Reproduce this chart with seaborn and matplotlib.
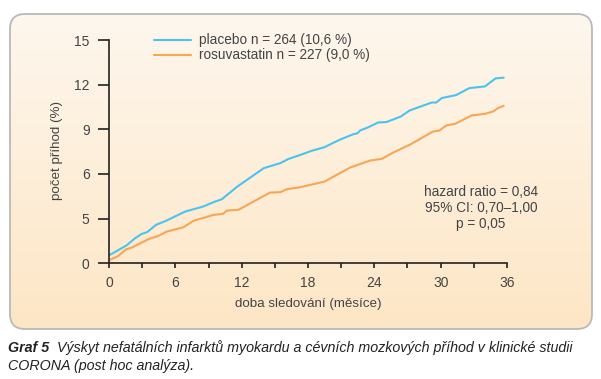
import numpy as np
import pandas as pd
import seaborn as sns
import matplotlib.pyplot as plt
from matplotlib.patches import FancyBboxPatch
from matplotlib.colors import LinearSegmentedColormap

# values (months, cumulative %)
placebo_months = [0.0, 0.24, 1.6, 2.35, 2.95, 3.46, 4.25, 5.2, 6.87, 8.5, 9.57, 10.2,
    11.6, 14.0, 15.5, 16.2, 17.3, 18.3, 19.5, 20.3, 21.0, 22.1, 22.5, 22.7, 23.4,
    24.35, 25.1, 26.4, 27.2, 29.2, 29.6, 30.1, 31.4, 32.6, 34.0, 34.96, 35.7]
placebo_pct = [0.55, 0.63, 1.21, 1.68, 1.97, 2.1, 2.58, 2.87, 3.47, 3.81, 4.14, 4.3,
    5.15, 6.39, 6.73, 7.0, 7.28, 7.55, 7.8, 8.1, 8.34, 8.67, 8.74, 8.92, 9.12,
    9.46, 9.49, 9.86, 10.27, 10.8, 10.8, 11.1, 11.3, 11.77, 11.88, 12.42, 12.47]
rosu_months = [0.0, 0.24, 0.84, 1.54, 2.05, 3.56, 4.46, 5.22, 6.73, 7.63, 9.44, 10.3,
    10.65, 11.7, 14.56, 15.5, 16.1, 17.3, 19.5, 21.8, 23.6, 24.7, 25.7, 27.2,
    28.1, 29.3, 29.9, 30.5, 31.3, 32.8, 34.0, 34.75, 35.2, 35.7]
rosu_pct = [0.2, 0.29, 0.49, 0.94, 1.05, 1.62, 1.84, 2.13, 2.42, 2.85, 3.25, 3.32,
    3.54, 3.59, 4.75, 4.78, 4.98, 5.11, 5.49, 6.43, 6.9, 7.02, 7.44, 7.96,
    8.34, 8.85, 8.92, 9.26, 9.37, 9.93, 10.04, 10.2, 10.43, 10.58]

groups = ["placebo n = 264 (10,6 %)", "rosuvastatin n = 227 (9,0 %)"]
colors = ["#4cc2ee", "#f6a655"]
y_ticks = [0, 3, 6, 9, 12, 15]
y_ticklabels = ["0", "5", "6", "9", "12", "15"]
x_ticks = [0, 3, 6, 9, 12, 15, 18, 21, 24, 27, 30, 33, 36]
x_ticklabels = ["0", "", "6", "", "12", "", "18", "", "24", "", "30", "", "36"]

df = pd.concat([
    pd.DataFrame({"month": placebo_months, "pct": placebo_pct, "group": groups[0]}),
    pd.DataFrame({"month": rosu_months, "pct": rosu_pct, "group": groups[1]}),
])

sns.set_style("ticks")
plt.rcParams["font.family"] = ["Liberation Sans", "DejaVu Sans"]
txt = "#444444"
fs = 9.8

W, H = 601, 379
fig = plt.figure(figsize=(W / 100, H / 100), dpi=100)

# background panel with vertical gradient
bg = fig.add_axes([0, 0, 1, 1], zorder=0)
bg.set_xlim(0, W)
bg.set_ylim(H, 0)
bg.axis("off")
box = FancyBboxPatch((10 + 15, 14 + 15), 582 - 30, 315 - 30,
    boxstyle="round,pad=15", facecolor="none", edgecolor="#b9b9b9", lw=1.3)
bg.add_patch(box)
cmap = LinearSegmentedColormap.from_list("bg", ["#fef7ee", "#fde6c5"])
grad = np.linspace(0, 1, 256).reshape(-1, 1)
im = bg.imshow(grad, cmap=cmap, aspect="auto", extent=(10, 592, 329, 14), zorder=0)
im.set_clip_path(box)

ax = fig.add_axes([109 / W, 1 - 263.3 / H, 398 / W, 223.3 / H], zorder=1)
ax.patch.set_alpha(0)
sns.lineplot(data=df, x="month", y="pct", hue="group", palette=colors,
    linewidth=1.5, legend=False, ax=ax, sort=False)
ax.set_xlim(0, 36)
ax.set_ylim(0, 15)
ax.set_xticks(x_ticks)
ax.set_xticklabels(x_ticklabels)
ax.set_yticks(y_ticks)
ax.set_yticklabels(y_ticklabels)
for s in ["top", "right"]:
    ax.spines[s].set_visible(False)
for s in ["left", "bottom"]:
    ax.spines[s].set_color("#222222")
    ax.spines[s].set_linewidth(1.2)
ax.tick_params(axis="y", length=8, width=1.2, color="#222222", pad=6,
    labelsize=10, labelcolor=txt)
ax.tick_params(axis="x", length=3.8, width=1.2, color="#222222", pad=5,
    labelsize=10, labelcolor=txt)
ax.set_xlabel("")
ax.set_ylabel("")

fig.text(57 / W, 1 - 150 / H, "počet příhod (%)", rotation=90, ha="center",
    va="center", fontsize=9.6, color=txt)
fig.text(308 / W, 1 - 304 / H, "doba sledování (měsíce)", ha="center",
    va="center", fontsize=9.6, color=txt)

# legend
for i, (g, c) in enumerate(zip(groups, colors)):
    row = 40 + 15 * i
    bg.plot([154, 191], [row, row], color=c, lw=1.5, zorder=2)
    fig.text(199 / W, 1 - row / H, g, ha="left", va="center", fontsize=fs, color=txt)

fig.text(481 / W, 1 - 208 / H, "hazard ratio = 0,84\n95% CI: 0,70\u20131,00\np = 0,05",
    ha="center", va="center", fontsize=fs, color=txt, linespacing=1.2)

# caption
cap_fs = 10.3
fig.text(8 / W, 1 - 348 / H, "Graf 5", ha="left", va="center", fontsize=cap_fs,
    style="italic", weight="bold", color="#222222")
fig.text(57 / W, 1 - 348 / H,
    "Výskyt nefatálních infarktů myokardu a cévních mozkových příhod v klinické studii",
    ha="left", va="center", fontsize=cap_fs, style="italic", color="#222222")
fig.text(8 / W, 1 - 366 / H, "CORONA (post hoc analýza).", ha="left", va="center",
    fontsize=cap_fs, style="italic", color="#222222")

fig.savefig("out.png", dpi=100)
